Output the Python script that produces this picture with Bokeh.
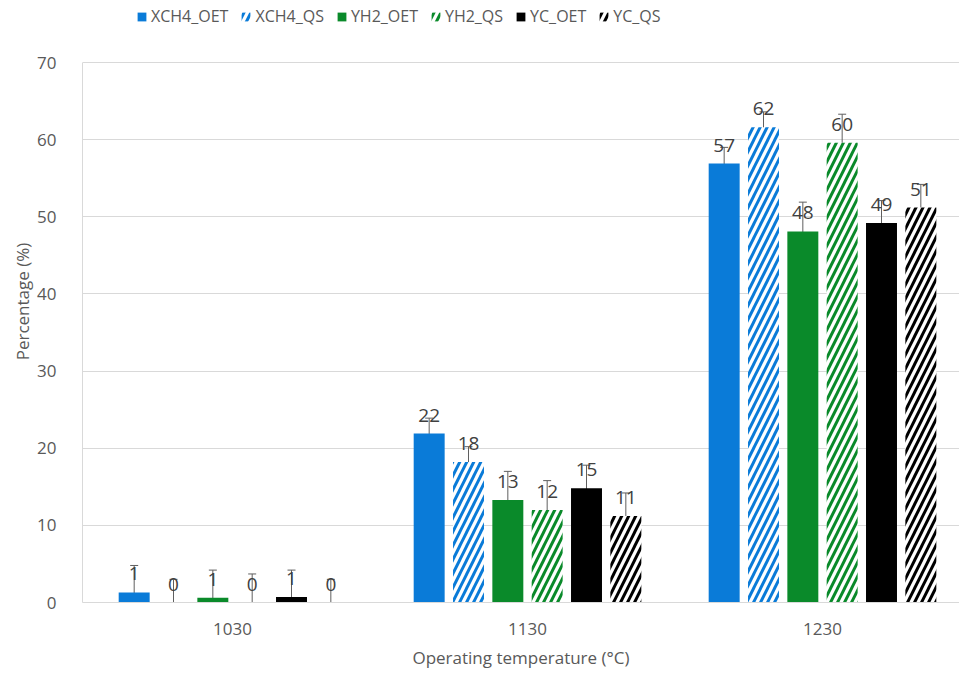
from bokeh.plotting import figure
from bokeh.models import ColumnDataSource, Whisker, TeeHead, Legend, LegendItem, FixedTicker
from bokeh.core.properties import value
from bokeh.embed import file_html
from bokeh.resources import INLINE

# ---- data ----
temperatures = ["1030", "1130", "1230"]
series_names = ["XCH4_OET", "XCH4_QS", "YH2_OET", "YH2_QS", "YC_OET", "YC_QS"]
xch4_oet = [1.3, 21.9, 56.9]
xch4_qs = [0.0, 18.2, 61.6]
yh2_oet = [0.6, 13.3, 48.1]
yh2_qs = [0.0, 12.0, 59.6]
yc_oet = [0.7, 14.8, 49.2]
yc_qs = [0.0, 11.2, 51.2]
xch4_oet_err = [3.5, 2.0, 2.1]
xch4_qs_err = [3.0, 2.0, 2.0]
yh2_oet_err = [3.6, 3.7, 3.8]
yh2_qs_err = [3.7, 3.8, 3.7]
yc_oet_err = [3.5, 3.0, 2.9]
yc_qs_err = [3.0, 3.0, 3.0]
y_ticks = [0, 10, 20, 30, 40, 50, 60, 70]

values = [xch4_oet, xch4_qs, yh2_oet, yh2_qs, yc_oet, yc_qs]
errors = [xch4_oet_err, xch4_qs_err, yh2_oet_err, yh2_qs_err, yc_oet_err, yc_qs_err]

BLUE = "#0A7BD8"
GREEN = "#0A8A2A"
BLACK = "#000000"
colors = [BLUE, BLUE, GREEN, GREEN, BLACK, BLACK]
hatched = [False, True, False, True, False, True]

FONT = "Open Sans"
GRAY_TXT = "#595959"

# frame reaches the top of the figure so the legend can sit inside it
p = figure(width=959, height=673, output_backend="svg", toolbar_location=None,
           x_range=(-0.5085, 2.4644), y_range=(0, 78.04),
           min_border_left=82, min_border_right=0, min_border_top=0, min_border_bottom=71)
p.outline_line_color = None
p.background_fill_color = "white"

group_w = 0.8
step = group_w / len(series_names)
bar_w = 0.105

items = []
for i, name in enumerate(series_names):
    off = (i - (len(series_names) - 1) / 2) * step
    xs = [k + off for k in range(len(temperatures))]
    vals = values[i]
    errs = errors[i]
    src = ColumnDataSource(dict(
        x=xs, top=vals,
        lower=[v - e for v, e in zip(vals, errs)],
        upper=[v + e for v, e in zip(vals, errs)],
        label=["{:.0f}".format(v) for v in vals],
    ))
    if hatched[i]:
        r = p.vbar(x="x", top="top", width=bar_w, source=src, fill_color="white",
                   line_color=None, hatch_pattern="/", hatch_color=colors[i],
                   hatch_weight=3, hatch_scale=14)
    else:
        r = p.vbar(x="x", top="top", width=bar_w, source=src, fill_color=colors[i],
                   line_color=None)
    items.append(LegendItem(label=name, renderers=[r]))
    w = Whisker(base="x", lower="lower", upper="upper", source=src,
                line_color="#5f5f5f", line_width=1,
                upper_head=TeeHead(size=8, line_color="#5f5f5f", line_width=1),
                lower_head=TeeHead(size=8, line_color="#5f5f5f", line_width=1))
    p.add_layout(w)
    p.text(x="x", y="top", text="label", source=src, text_align="center",
           text_baseline="bottom", y_offset=-12, text_font=value(FONT),
           text_font_size="19px", text_color="#404040")

legend = Legend(items=items, orientation="horizontal", location=(54, 575),
                background_fill_alpha=0, border_line_color=None,
                padding=0, margin=0, spacing=12, label_standoff=4,
                glyph_width=11, glyph_height=11, label_height=22,
                label_text_font=FONT, label_text_font_size="16px",
                label_text_color=GRAY_TXT)
p.add_layout(legend, "center")

# axes
p.xaxis.ticker = FixedTicker(ticks=list(range(len(temperatures))))
p.xaxis.major_label_overrides = {k: t for k, t in enumerate(temperatures)}
p.xaxis.axis_label = "Operating temperature (°C)"
p.yaxis.axis_label = "Percentage (%)"
p.yaxis.ticker = FixedTicker(ticks=y_ticks)
p.yaxis.bounds = (y_ticks[0], y_ticks[-1])
for ax in (p.xaxis, p.yaxis):
    ax.axis_line_color = "#d9d9d9"
    ax.axis_line_width = 1
    ax.major_tick_line_color = None
    ax.minor_tick_line_color = None
    ax.major_label_text_font = FONT
    ax.major_label_text_font_size = "17px"
    ax.major_label_text_color = GRAY_TXT
    ax.axis_label_text_font = FONT
    ax.axis_label_text_font_size = "17px"
    ax.axis_label_text_font_style = "normal"
    ax.axis_label_text_color = GRAY_TXT
p.xaxis.major_label_standoff = 14
p.xaxis.axis_label_standoff = 8
p.yaxis.major_label_standoff = 20
p.yaxis.axis_label_standoff = 0

p.xgrid.grid_line_color = None
p.ygrid.grid_line_color = "#d9d9d9"
p.ygrid.grid_line_width = 1

open("out.html", "w").write(file_html(p, INLINE))
